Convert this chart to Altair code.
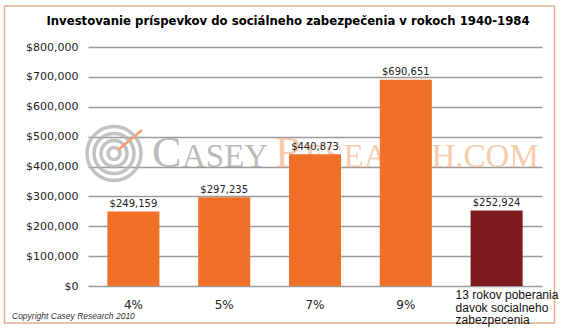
import altair as alt
import pandas as pd

# ---- data ----
categories = ["4%", "5%", "7%", "9%", "13 rokov"]
values = [249159, 297235, 440873, 690651, 252924]
value_labels = ["$249,159", "$297,235", "$440,873", "$690,651", "$252,924"]
category_labels = ["4%", "5%", "7%", "9%",
                   "13 rokov poberania\ndavok socialneho\nzabezpecenia"]
bar_colors = ["#F07028", "#F07028", "#F07028", "#F07028", "#7D1B20"]
y_ticks = [0, 100000, 200000, 300000, 400000, 500000, 600000, 700000, 800000]
title_text = "Investovanie príspevkov do sociálneho zabezpečenia v rokoch 1940-1984"
copyright_text = "Copyright Casey Research 2010"

df = pd.DataFrame({
    "cat": categories,
    "value": values,
    "vlabel": value_labels,
    "clabel": category_labels,
    "color": bar_colors,
    "idx": list(range(len(categories))),
})

W, H = 454, 239
OX, OY = 88, 47  # plot origin in page pixels

x_enc = alt.X("cat:N", sort=categories,
              scale=alt.Scale(paddingInner=0.427, paddingOuter=0.2135),
              axis=None)
y_enc = alt.Y("value:Q",
              scale=alt.Scale(domain=[0, 800000], nice=False, zero=True),
              axis=alt.Axis(values=y_ticks, tickCount=len(y_ticks) + 1,
                            format="$,.0f", title=None,
                            ticks=False, domain=False, grid=True,
                            gridColor="#9a9a9a", gridWidth=1.5,
                            labelOverlap=False,
                            labelFont="DejaVu Sans", labelFontSize=11,
                            labelColor="#222222", labelPadding=10))

base = alt.Chart(df)

bars = base.mark_bar().encode(
    x=x_enc, y=y_enc, color=alt.Color("color:N", scale=None)
)

vlabels = base.mark_text(baseline="alphabetic", dy=-4.5, font="DejaVu Sans",
                         fontSize=10, color="#222222").encode(
    x=x_enc, y=y_enc, text="vlabel:N"
)

clabels = base.transform_filter("datum.idx < 4").mark_text(
    baseline="middle", font="DejaVu Sans", fontSize=12, color="#222222"
).encode(x=x_enc, y=alt.value(H + 19), text="clabel:N")

clabel_last = base.transform_filter("datum.idx == 4").mark_text(
    align="left", baseline="top", dx=-41, lineBreak="\n", lineHeight=12.5,
    font="Liberation Sans", fontSize=12, color="#111111"
).encode(x=x_enc, y=alt.value(H + 4), text="clabel:N")

one = alt.Data(values=[{"a": 1}])

# ---- decorative watermark ----
wm_y = 167 - OY
wm = []
for d in [54, 40, 26, 12]:
    wm.append(alt.Chart(one).mark_point(shape="circle", filled=False,
                                        stroke="#b4b4b4", strokeWidth=3.5,
                                        opacity=0.8).encode(
        x=alt.value(114 - OX), y=alt.value(153.5 - OY), size=alt.value(d * d)))
wm.append(alt.Chart(one).mark_rule(color="#f3a070", strokeWidth=2.5).encode(
    x=alt.value(118 - OX), y=alt.value(150 - OY),
    x2=alt.value(142 - OX), y2=alt.value(130 - OY)))
for txt, xx, fs, col in [("C", 152, 44, "#aaaaaa"), ("ASEY", 182, 33, "#aaaaaa"),
                          ("R", 275, 44, "#f6bf9a"), ("ESEARCH.COM", 305, 33, "#f6bf9a")]:
    wm.append(alt.Chart(one).mark_text(align="left", baseline="alphabetic",
                                       font="Liberation Serif", fontSize=fs,
                                       color=col, opacity=0.8).encode(
        x=alt.value(xx - OX), y=alt.value(wm_y), text=alt.value(txt)))

title = alt.Chart(one).mark_text(align="center", baseline="middle",
                                 font="DejaVu Sans", fontSize=11.7,
                                 fontWeight="bold",
                                 color="#000000").encode(
    x=alt.value(288 - OX), y=alt.value(21 - OY), text=alt.value(title_text))

copyright_mark = alt.Chart(one).mark_text(align="left", baseline="middle",
                                          font="Liberation Sans", fontSize=8.5,
                                          fontStyle="italic",
                                          color="#333333").encode(
    x=alt.value(12 - OX), y=alt.value(316 - OY), text=alt.value(copyright_text))

border = alt.Chart(one).mark_rect(fillOpacity=0, stroke="#e6ad8c",
                                  strokeWidth=1.5).encode(
    x=alt.value(4.5 - OX), x2=alt.value(554.5 - OX),
    y=alt.value(6 - OY), y2=alt.value(323 - OY))

chart = alt.layer(
    border, *wm, bars, vlabels, clabels, clabel_last, title, copyright_mark
).properties(
    width=W, height=H,
    autosize=alt.AutoSizeParams(type="none"),
    padding={"left": OX, "top": OY, "right": 561 - OX - W, "bottom": 333 - OY - H},
    background="white",
).configure_view(strokeWidth=0)

chart.save("out.html", embed_options={"renderer": "svg", "actions": False})
